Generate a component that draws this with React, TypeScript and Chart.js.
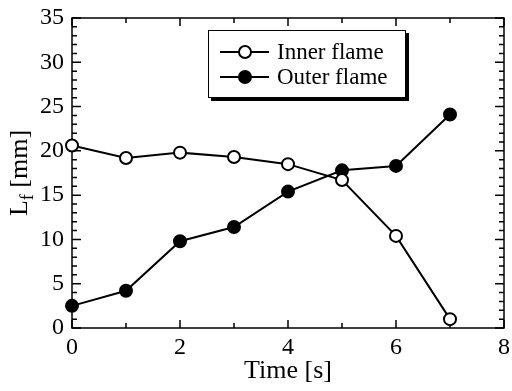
import React, { useEffect, useRef } from "react";
import { Chart, registerables } from "chart.js";

Chart.register(...registerables);

const timeS = [0, 1, 2, 3, 4, 5, 6, 7];
const innerFlame = [20.6, 19.2, 19.8, 19.3, 18.5, 16.7, 10.4, 1.0];
const outerFlame = [2.5, 4.2, 9.8, 11.4, 15.4, 17.8, 18.3, 24.1];
const seriesLabels = ["Inner flame", "Outer flame"];
const xRange = [0, 8];
const yRange = [0, 35];
const xMajorStep = 2;
const xMinorStep = 1;
const yMajorStep = 5;
const yMinorStep = 1;
const xTitle = "Time [s]";
const yTitleMain = "L";
const yTitleSub = "f";
const yTitleRest = " [mm]";

const FONT = '"Liberation Serif", "Times New Roman", serif';

const framePlugin = {
  id: "frame",
  beforeDatasetsDraw(chart: any) {
    const { ctx, chartArea: a, scales } = chart;
    const x = scales.x;
    const y = scales.y;
    ctx.save();
    ctx.strokeStyle = "#000";
    ctx.lineWidth = 1.5;
    ctx.strokeRect(a.left, a.top, a.right - a.left, a.bottom - a.top);
    ctx.beginPath();
    for (let v = yRange[0]; v <= yRange[1] + 1e-9; v += yMinorStep) {
      const py = y.getPixelForValue(v);
      const len = Math.abs(v % yMajorStep) < 1e-9 ? 9 : 5;
      ctx.moveTo(a.left, py);
      ctx.lineTo(a.left + len, py);
      ctx.moveTo(a.right, py);
      ctx.lineTo(a.right - len, py);
    }
    for (let v = xRange[0]; v <= xRange[1] + 1e-9; v += xMinorStep) {
      const px = x.getPixelForValue(v);
      const len = Math.abs(v % xMajorStep) < 1e-9 ? 8 : 5;
      ctx.moveTo(px, a.bottom);
      ctx.lineTo(px, a.bottom - len);
      ctx.moveTo(px, a.top);
      ctx.lineTo(px, a.top + len);
    }
    ctx.stroke();

    // y axis title with subscript
    const cy = (a.top + a.bottom) / 2;
    const cx = 20;
    ctx.translate(cx, cy);
    ctx.rotate(-Math.PI / 2);
    ctx.fillStyle = "#000";
    ctx.textBaseline = "alphabetic";
    ctx.textAlign = "left";
    ctx.font = `26px ${FONT}`;
    const wL = ctx.measureText(yTitleMain).width;
    const wR = ctx.measureText(yTitleRest).width;
    ctx.font = `18px ${FONT}`;
    const wS = ctx.measureText(yTitleSub).width;
    const total = wL + wS + wR;
    let sx = -total / 2;
    const base = 7;
    ctx.font = `26px ${FONT}`;
    ctx.fillText(yTitleMain, sx, base);
    sx += wL;
    ctx.font = `18px ${FONT}`;
    ctx.fillText(yTitleSub, sx, base + 6);
    sx += wS;
    ctx.font = `26px ${FONT}`;
    ctx.fillText(yTitleRest, sx, base);
    ctx.restore();
  },
  afterDraw(chart: any) {
    const { ctx } = chart;
    const bx = 208, by = 30, bw = 198, bh = 68;
    ctx.save();
    ctx.fillStyle = "#000";
    ctx.fillRect(bx + 3, by + 3, bw, bh);
    ctx.fillStyle = "#fff";
    ctx.fillRect(bx, by, bw, bh);
    ctx.strokeStyle = "#000";
    ctx.lineWidth = 1;
    ctx.strokeRect(bx + 0.5, by + 0.5, bw - 1, bh - 1);
    const rows = [52, 77];
    chart.data.datasets.forEach((ds: any, i: number) => {
      const ry = rows[i];
      ctx.strokeStyle = "#000";
      ctx.lineWidth = 2;
      ctx.beginPath();
      ctx.moveTo(220, ry);
      ctx.lineTo(269, ry);
      ctx.stroke();
      ctx.beginPath();
      ctx.arc(245, ry, 6, 0, Math.PI * 2);
      ctx.fillStyle = ds.pointBackgroundColor;
      ctx.fill();
      ctx.stroke();
      ctx.fillStyle = "#000";
      ctx.font = `23px ${FONT}`;
      ctx.textBaseline = "middle";
      ctx.textAlign = "left";
      ctx.fillText(ds.label, 277, ry + 1);
    });
    ctx.restore();
  },
};

export default function App() {
  const ref = useRef<HTMLCanvasElement | null>(null);
  useEffect(() => {
    if (!ref.current) return;
    const chart = new Chart(ref.current, {
      type: "line",
      data: {
        datasets: [
          {
            label: seriesLabels[0],
            data: timeS.map((t, i) => ({ x: t, y: innerFlame[i] })),
            borderColor: "#000",
            borderWidth: 2,
            pointBackgroundColor: "#fff",
            pointBorderColor: "#000",
            pointBorderWidth: 2,
            pointRadius: 6,
            clip: false as any,
          },
          {
            label: seriesLabels[1],
            data: timeS.map((t, i) => ({ x: t, y: outerFlame[i] })),
            borderColor: "#000",
            borderWidth: 2,
            pointBackgroundColor: "#000",
            pointBorderColor: "#000",
            pointBorderWidth: 2,
            pointRadius: 6,
            clip: false as any,
          },
        ],
      },
      options: {
        responsive: false,
        animation: false,
        layout: { padding: { left: 0, top: 18, right: 6, bottom: 0 } },
        plugins: { legend: { display: false }, tooltip: { enabled: false } },
        scales: {
          x: {
            type: "linear",
            min: xRange[0],
            max: xRange[1],
            grid: { display: false, drawTicks: false },
            border: { display: false },
            ticks: {
              stepSize: xMajorStep,
              color: "#000",
              padding: 5,
              maxRotation: 0,
              font: { family: FONT, size: 24 },
            },
            title: {
              display: true,
              text: xTitle,
              color: "#000",
              font: { family: FONT, size: 26 },
              padding: { top: 0, bottom: 4 },
            },
            afterFit(scale: any) {
              scale.height = 63;
              scale.paddingLeft = 0;
              scale.paddingRight = 0;
            },
          },
          y: {
            type: "linear",
            min: yRange[0],
            max: yRange[1],
            grid: { display: false, drawTicks: false },
            border: { display: false },
            ticks: {
              stepSize: yMajorStep,
              color: "#000",
              padding: 8,
              font: { family: FONT, size: 24 },
            },
            afterFit(scale: any) {
              scale.width = 72;
              scale.paddingTop = 0;
              scale.paddingBottom = 0;
            },
          },
        },
      },
      plugins: [framePlugin],
    });
    return () => chart.destroy();
  }, []);
  return (
    <div style={{ position: "fixed", left: 0, top: 0, width: 512, height: 391, background: "#fff" }}>
      <canvas ref={ref} width={512} height={391} style={{ display: "block" }} />
    </div>
  );
}
